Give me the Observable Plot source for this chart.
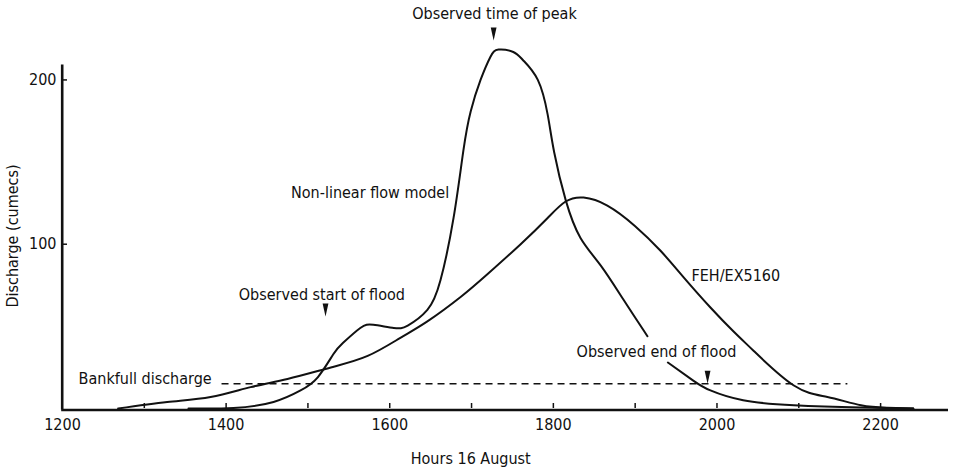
<!DOCTYPE html>
<html>
<head>
<meta charset="utf-8">
<script src="https://cdn.jsdelivr.net/npm/d3@7"></script>
<script src="https://cdn.jsdelivr.net/npm/@observablehq/plot@0.6"></script>
<style>
  html, body { margin: 0; padding: 0; background: #fff; }
  #chart svg { display: block; }
</style>
</head>
<body>
<div id="chart"></div>
<script>
// ---- Data ----
// FEH/EX5160 hydrograph
const fehHours = [1268,1328,1381,1430,1475,1528,1573,1613,1646,1687,1720,1760,1793,1815,1837,1866,1900,1931,1959,1992,2020,2045,2094,2135,2176,2208,2240];
const fehFlow  = [0,4,7,13,18,25,32,43,53,68,82,100,116,126,128.4,123.5,111,96,80,61.5,47,35,14,7,2,0.5,0];

// Non-linear flow model hydrograph (null = break where the label sits)
const nlHours = [1354,1409,1458,1491,1512,1531,1543,1564,1580,1605,1622,1646,1662,1678,1690,1699,1711,1723,1733,1751,1763,1781,1793,1801,1815,1833,1858,1886,1915,1928,1940,1971,1992,2032,2094,2176,2240];
const nlFlow  = [0,0.3,4,11,19,33,40,49,51,49,50.5,60,78,116,157,181,200,214,218.5,217,212,200,179,156,127,104,87,66,44,null,28,17,11,5,2,0.6,0];

// Bankfull discharge
const bankfullFlow = 15;
const bankfullHours = [1395, 2160];

// Axis ticks
const xLabelTicks = [1200,1400,1600,1800,2000,2200];
const xMinorTicks = [1300,1400,1500,1600,1700,1800,1900,2000,2100,2200];
const yTicks = [100,200];

// Annotations
const labelTexts = ["Observed time of peak","Non-linear flow model","Observed start of flood","FEH/EX5160","Observed end of flood","Bankfull discharge"];
const labelHours = [1728,1576,1517,2023,1926,1301];
const labelFlows = [240,131,69,81,34.7,18.3];

const arrowHours = [1727,1521.5,1988.5];
const arrowFlows = [228,60,19];

const xTitle = "Hours 16 August";
const yTitle = "Discharge (cumecs)";

// ---- Build tables ----
const feh = fehHours.map((h,i) => ({hour: h, q: fehFlow[i]}));
const nl = nlHours.map((h,i) => ({hour: h, q: nlFlow[i]}));
const labels = labelTexts.map((t,i) => ({text: t, hour: labelHours[i], q: labelFlows[i]}));
const arrows = arrowHours.map((h,i) => ({hour: h, q: arrowFlows[i]}));

const ink = "#111";
const narrowTriangle = {
  draw(context, size) {
    const s = Math.sqrt(size / Math.PI);
    context.moveTo(-0.58 * s, -1.3 * s);
    context.lineTo(0.58 * s, -1.3 * s);
    context.lineTo(0, 1.3 * s);
    context.closePath();
  }
};

const W = 957, H = 470, ML = 62, MR = 9, MT = 63, MB = 62;

const chart = Plot.plot({
  width: W,
  height: H,
  marginLeft: ML,
  marginRight: MR,
  marginTop: MT,
  marginBottom: MB,
  style: {fontFamily: "'DejaVu Sans Condensed', 'DejaVu Sans', sans-serif", fontSize: "16px", color: ink, background: "#fff"},
  x: {domain: [1200, 2283]},
  y: {domain: [0, 210]},
  marks: [
    // minor inward ticks on x axis
    Plot.tickX(xMinorTicks, {x: d => d, stroke: ink, strokeWidth: 1.5, insetTop: (H - MT - MB) - 5}),
    // inward ticks on y axis
    Plot.tickY(yTicks, {y: d => d, stroke: ink, strokeWidth: 1.5, insetRight: (W - ML - MR) - 5}),
    Plot.axisX(xLabelTicks, {tickSize: 0, tickPadding: 10, tickFormat: d => String(d), label: null, fill: ink}),
    Plot.axisY(yTicks, {tickSize: 0, tickPadding: 6, tickFormat: d => String(d), label: null, fill: ink}),
    // axis lines
    Plot.ruleY([0], {stroke: ink, strokeWidth: 2.6, dy: 1.5, x1: 1199, x2: 2283}),
    Plot.ruleX([1200], {stroke: ink, strokeWidth: 2.6, dx: -0.3, y1: 0, y2: 210, dy: 1.5}),
    // bankfull
    Plot.ruleY([bankfullFlow], {x1: bankfullHours[0], x2: bankfullHours[1], stroke: ink, strokeWidth: 1.5, strokeDasharray: "7,5"}),
    // hydrographs
    Plot.line(feh, {x: "hour", y: "q", stroke: ink, strokeWidth: 2, curve: "natural"}),
    Plot.line(nl, {x: "hour", y: "q", stroke: ink, strokeWidth: 2, curve: "natural"}),
    // annotations
    Plot.text(labels, {x: "hour", y: "q", text: "text", fill: ink, fontSize: 16}),
    Plot.dot(arrows, {x: "hour", y: "q", r: 5, symbol: narrowTriangle, fill: ink, stroke: "none"}),
    // titles
    Plot.text([xTitle], {x: () => 1699, frameAnchor: "bottom", dy: 55, text: d => d, fill: ink, fontSize: 16}),
    Plot.text([yTitle], {frameAnchor: "left", dx: -50, rotate: -90, textAnchor: "middle", text: d => d, fill: ink, fontSize: 16})
  ]
});

document.getElementById("chart").appendChild(chart);
</script>
</body>
</html>
